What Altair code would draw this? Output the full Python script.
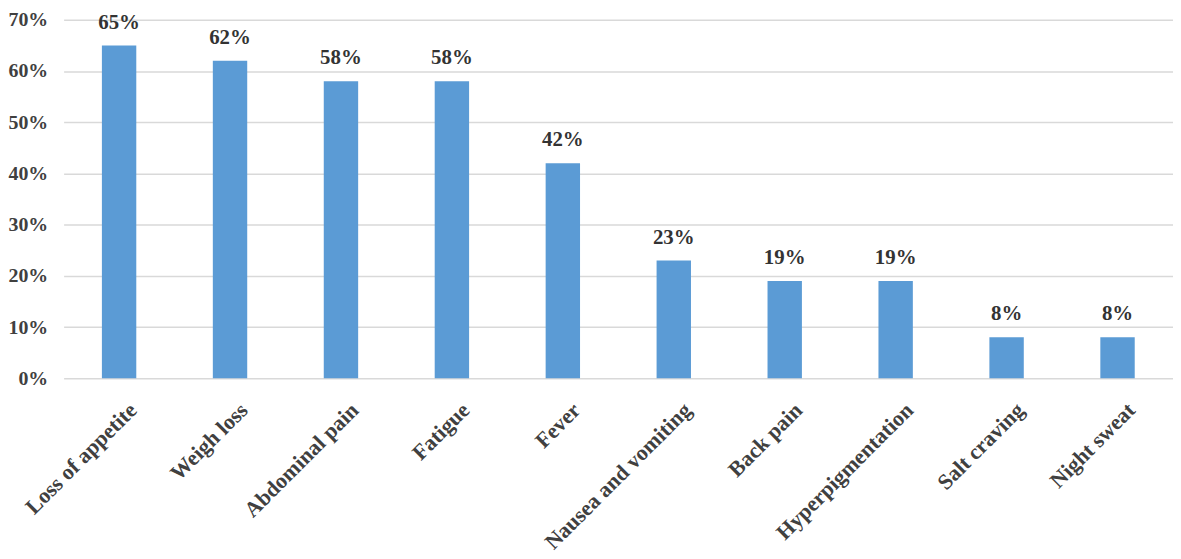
import altair as alt
import pandas as pd

symptoms = ["Loss of appetite", "Weigh loss", "Abdominal pain", "Fatigue", "Fever",
            "Nausea and vomiting", "Back pain", "Hyperpigmentation", "Salt craving", "Night sweat"]
values = [0.65, 0.62, 0.58, 0.58, 0.42, 0.23, 0.19, 0.19, 0.08, 0.08]

df = pd.DataFrame({"symptom": symptoms, "value": values})

FONT = "Liberation Serif"
TXT = "#404040"

x = alt.X("symptom:N", sort=symptoms, title=None,
          scale=alt.Scale(paddingInner=0.69, paddingOuter=0.345),
          axis=alt.Axis(labelAngle=-45, labelAlign="right", labelBaseline="top",
                        labelFont=FONT, labelFontSize=22, labelFontWeight="bold",
                        labelColor=TXT, ticks=False, domain=False, labelPadding=21,
                        labelOffset=7, labelLimit=400))
y = alt.Y("value:Q", title=None,
          scale=alt.Scale(domain=[0, 0.7], nice=False),
          axis=alt.Axis(format=".0%", values=[0, .1, .2, .3, .4, .5, .6, .7],
                        labelFont=FONT, labelFontSize=20, labelFontWeight="bold",
                        labelColor=TXT, ticks=False, domain=False, labelPadding=16,
                        gridColor="#d9d9d9", gridWidth=1.5))

base = alt.Chart(df)
bars = base.mark_bar(color="#5b9bd5").encode(x=x, y=y)
labels = base.mark_text(font=FONT, fontSize=21, fontWeight="bold", color="#333333",
                        baseline="alphabetic", dy=-17).encode(
    x=alt.X("symptom:N", sort=symptoms),
    y="value:Q",
    text=alt.Text("value:Q", format=".0%"))

chart = (bars + labels).properties(
    width=1117, height=361,
    autosize=alt.AutoSizeParams(type="none"),
    padding={"left": 56, "top": 10, "right": 0, "bottom": 180},
).configure_view(stroke=None)

chart.save("out.html", embed_options={"renderer": "svg", "actions": False})
